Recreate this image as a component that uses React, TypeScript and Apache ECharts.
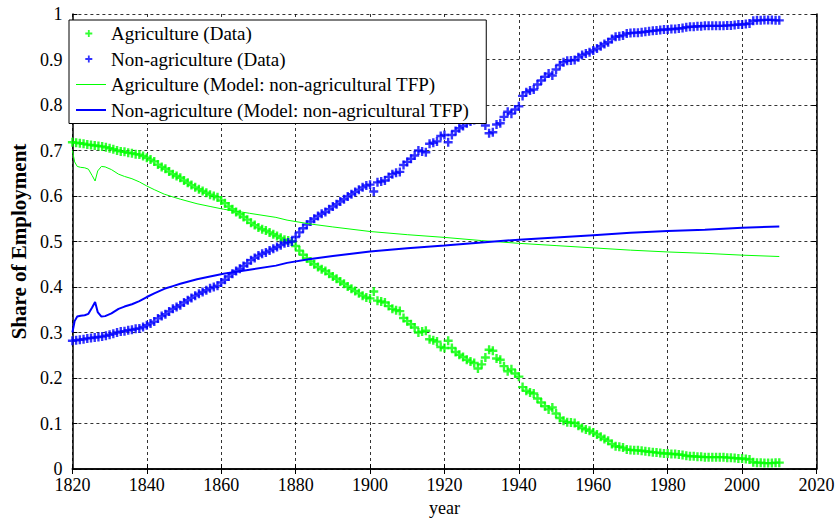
import React, { useEffect, useRef } from "react";
import * as echarts from "echarts";

const startYear = 1820;
// Agriculture employment share (data), one value per year 1820..2010
const agData: number[] = [
  0.718, 0.717, 0.716, 0.715, 0.713, 0.712, 0.711, 0.710, 0.709, 0.707,
  0.705, 0.703, 0.700, 0.698, 0.697, 0.695, 0.694, 0.692, 0.691, 0.688,
  0.684, 0.680, 0.676, 0.669, 0.664, 0.660, 0.654, 0.648, 0.644, 0.640,
  0.634, 0.629, 0.624, 0.619, 0.615, 0.611, 0.607, 0.603, 0.600, 0.597,
  0.590, 0.584, 0.577, 0.571, 0.565, 0.560, 0.554, 0.548, 0.541, 0.536,
  0.531, 0.527, 0.524, 0.520, 0.516, 0.512, 0.508, 0.504, 0.502, 0.500,
  0.490, 0.480, 0.471, 0.463, 0.456, 0.450, 0.444, 0.439, 0.435, 0.429,
  0.423, 0.418, 0.412, 0.407, 0.401, 0.396, 0.391, 0.386, 0.381, 0.377,
  0.375, 0.390, 0.370, 0.368, 0.366, 0.358, 0.352, 0.349, 0.347, 0.332,
  0.325, 0.318, 0.311, 0.300, 0.302, 0.304, 0.285, 0.283, 0.280, 0.268,
  0.266, 0.282, 0.266, 0.257, 0.251, 0.246, 0.240, 0.236, 0.233, 0.221,
  0.230, 0.245, 0.262, 0.260, 0.243, 0.240, 0.226, 0.215, 0.219, 0.210,
  0.203, 0.180, 0.172, 0.168, 0.166, 0.155, 0.146, 0.138, 0.131, 0.135,
  0.122, 0.112, 0.106, 0.103, 0.102, 0.101, 0.095, 0.090, 0.087, 0.084,
  0.080, 0.076, 0.071, 0.066, 0.062, 0.055, 0.050, 0.049, 0.047, 0.043,
  0.042, 0.041, 0.041, 0.040, 0.039, 0.038, 0.037, 0.036, 0.035, 0.034,
  0.034, 0.033, 0.033, 0.032, 0.031, 0.029, 0.028, 0.028, 0.027, 0.027,
  0.026, 0.026, 0.026, 0.026, 0.026, 0.026, 0.025, 0.025, 0.024, 0.023,
  0.023, 0.022, 0.021, 0.015, 0.014, 0.014, 0.013, 0.013, 0.013, 0.014,
  0.014,
];

// Agriculture share, model (non-agricultural TFP): [year, share]
const agModel: [number, number][] = [
  [1820, 0.700], [1820.6, 0.675], [1821.3, 0.665], [1822.2, 0.663], [1823.3, 0.662],
  [1824.3, 0.659], [1825.3, 0.645], [1826.1, 0.633], [1826.8, 0.655], [1827.8, 0.665],
  [1828.8, 0.664], [1830.5, 0.658], [1832.4, 0.648], [1834, 0.643], [1836, 0.638],
  [1838, 0.631], [1840, 0.622], [1842, 0.614], [1844.7, 0.604], [1847, 0.598],
  [1849, 0.593], [1853.5, 0.583], [1857, 0.577], [1860.6, 0.571], [1867.6, 0.562],
  [1874.7, 0.553], [1877.7, 0.547], [1883.5, 0.539], [1890, 0.532], [1900, 0.522],
  [1910, 0.515], [1920, 0.509], [1930, 0.502], [1940, 0.496], [1950, 0.491],
  [1960, 0.486], [1970, 0.481], [1980, 0.477], [1990, 0.474], [2000, 0.470],
  [2010, 0.467],
];

const seriesNames = [
  "Agriculture (Data)",
  "Non-agriculture (Data)",
  "Agriculture (Model: non-agricultural TFP)",
  "Non-agriculture (Model: non-agricultural TFP)",
];

const GREEN = "#00ff00";
const BLUE = "#0000ff";
const FONT = "Liberation Serif";

const plusSymbol = "path://M3.3,0H5.7V3.3H9V5.7H5.7V9H3.3V5.7H0V3.3H3.3Z";
const plusLegend = "path://M0,0M30,14M11.9,3.5H13.7V6.1H16.3V7.9H13.7V10.5H11.9V7.9H9.3V6.1H11.9Z";
const thinLegend = "path://M0,0M30,14M0,6.5H30V7.5H0Z";
const thickLegend = "path://M0,0M30,14M0,6H30V8H0Z";

export default function App() {
  const ref = useRef<HTMLDivElement>(null);
  useEffect(() => {
    if (!ref.current) return;
    const chart = echarts.init(ref.current, undefined, { renderer: "svg" });
    const agPts = agData.map((v, i) => [startYear + i, v]);
    const nonAgPts = agData.map((v, i) => [startYear + i, 1 - v]);
    const nonAgModel = agModel.map(([y, v]) => [y, 1 - v]);
    const axisText = { color: "#000", fontFamily: FONT, fontSize: 18 };
    chart.setOption({
      animation: false,
      backgroundColor: "#fff",
      grid: { left: 62, right: 23.5, top: 14, bottom: 45, containLabel: false },
      legend: {
        orient: "vertical",
        left: 69,
        top: 20,
        padding: [4, 17, 4, 7],
        backgroundColor: "#fff",
        borderColor: "#000",
        borderWidth: 1,
        borderRadius: 0,
        itemWidth: 30,
        itemHeight: 14,
        itemGap: 6.5,
        itemStyle: { borderWidth: 0 },
        textStyle: { color: "#000", fontFamily: FONT, fontSize: 19, lineHeight: 18 },
        data: [
          { name: seriesNames[0], icon: plusLegend },
          { name: seriesNames[1], icon: plusLegend },
          { name: seriesNames[2], icon: thinLegend },
          { name: seriesNames[3], icon: thickLegend },
        ],
      },
      xAxis: [
        {
          type: "value",
          min: 1820,
          max: 2020,
          interval: 20,
          position: "bottom",
          name: "year",
          nameLocation: "middle",
          nameGap: 30,
          nameTextStyle: { ...axisText },
          axisLine: { show: true, lineStyle: { color: "#000", width: 1.5 } },
          axisTick: { show: true, inside: true, length: 5, lineStyle: { color: "#000" } },
          axisLabel: { ...axisText, lineHeight: 14, margin: 9, formatter: (v: number) => String(v) },
          splitLine: { show: true, lineStyle: { color: "#000", type: [3, 3], width: 1, opacity: 0.8 } },
        },
        {
          type: "value",
          min: 1820,
          max: 2020,
          interval: 20,
          position: "top",
          axisLine: { show: true, lineStyle: { color: "#000", width: 1.5 } },
          axisTick: { show: true, inside: true, length: 5, lineStyle: { color: "#000" } },
          axisLabel: { show: false },
          splitLine: { show: false },
        },
      ],
      yAxis: [
        {
          type: "value",
          min: 0,
          max: 1,
          interval: 0.1,
          position: "left",
          name: "Share of Employment",
          nameLocation: "middle",
          nameGap: 36,
          nameTextStyle: { color: "#000", fontFamily: FONT, fontSize: 21, fontWeight: "bold" },
          axisLine: { show: true, lineStyle: { color: "#000", width: 1.5 } },
          axisTick: { show: true, inside: true, length: 5, lineStyle: { color: "#000" } },
          axisLabel: { ...axisText, lineHeight: 12, margin: 10 },
          splitLine: { show: true, lineStyle: { color: "#000", type: [3, 3], width: 1, opacity: 0.8 } },
        },
        {
          type: "value",
          min: 0,
          max: 1,
          interval: 0.1,
          position: "right",
          axisLine: { show: true, lineStyle: { color: "#000", width: 1.5 } },
          axisTick: { show: true, inside: true, length: 5, lineStyle: { color: "#000" } },
          axisLabel: { show: false },
          splitLine: { show: false },
        },
      ],
      series: [
        {
          name: seriesNames[0],
          type: "scatter",
          data: agPts,
          symbol: plusSymbol,
          symbolSize: 9,
          itemStyle: { color: GREEN },
          z: 3,
        },
        {
          name: seriesNames[1],
          type: "scatter",
          data: nonAgPts,
          symbol: plusSymbol,
          symbolSize: 9,
          itemStyle: { color: BLUE },
          z: 3,
        },
        {
          name: seriesNames[2],
          type: "line",
          data: agModel,
          showSymbol: false,
          symbol: "none",
          itemStyle: { color: GREEN },
          lineStyle: { color: GREEN, width: 1 },
          z: 4,
        },
        {
          name: seriesNames[3],
          type: "line",
          data: nonAgModel,
          showSymbol: false,
          symbol: "none",
          itemStyle: { color: BLUE },
          lineStyle: { color: BLUE, width: 2 },
          z: 4,
        },
      ],
    });
    return () => chart.dispose();
  }, []);
  return <div ref={ref} style={{ width: 840, height: 522, position: "absolute", left: 0, top: 0 }} />;
}
